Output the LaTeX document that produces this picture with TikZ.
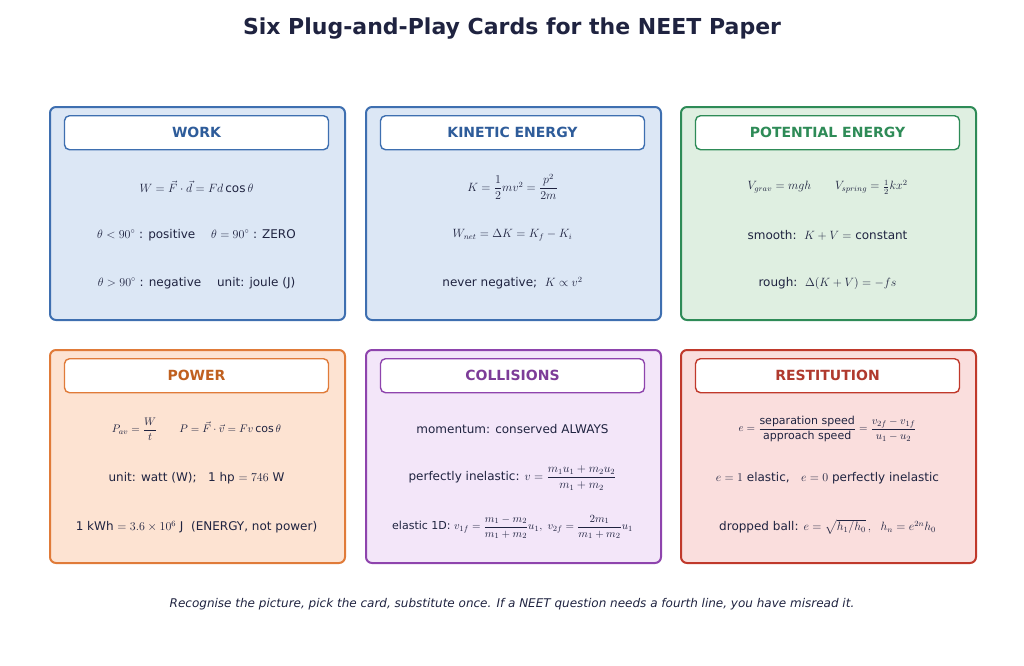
\documentclass[tikz,border=0pt]{standalone}
\usepackage{fontspec}
\setmainfont{DejaVu Sans}
\usepackage{amsmath}
\definecolor{ink}{HTML}{1F2340}
\definecolor{bB}{HTML}{3E6FB0}\definecolor{bF}{HTML}{DCE7F5}\definecolor{bT}{HTML}{2E5C9A}
\definecolor{gB}{HTML}{2E8B57}\definecolor{gF}{HTML}{DFEFE1}\definecolor{gT}{HTML}{2E8B57}
\definecolor{oB}{HTML}{E07B39}\definecolor{oF}{HTML}{FDE3D2}\definecolor{oT}{HTML}{C0601F}
\definecolor{pB}{HTML}{8E44AD}\definecolor{pF}{HTML}{F3E6F9}\definecolor{pT}{HTML}{7D3C98}
\definecolor{rB}{HTML}{C0392B}\definecolor{rF}{HTML}{FADEDD}\definecolor{rT}{HTML}{B03A2E}
\begin{document}
\begin{tikzpicture}[x=1pt,y=-1pt,
  card/.style={draw=#1,line width=2pt,rounded corners=6pt,minimum width=295pt,minimum height=213pt,anchor=north west,inner sep=0pt},
  head/.style={draw=#1,line width=1.4pt,fill=white,rounded corners=5pt,minimum width=264pt,minimum height=34pt,anchor=north,font=\bfseries\fontsize{14}{16}\selectfont},
  line/.style={text=ink,font=\fontsize{12}{14}\selectfont},
  small/.style={text=ink,font=\fontsize{11}{13}\selectfont}]
\useasboundingbox (0,0) rectangle (1024,665);
\node[text=ink,font=\bfseries\fontsize{22}{26}\selectfont] (title) at (512,29) {Six Plug-and-Play Cards for the NEET Paper};
\node[card=bB,fill=bF] (c1) at (49,106) {};
\node[card=bB,fill=bF] (c2) at (365,106) {};
\node[card=gB,fill=gF] (c3) at (680,106) {};
\node[card=oB,fill=oF] (c4) at (49,349) {};
\node[card=pB,fill=pF] (c5) at (365,349) {};
\node[card=rB,fill=rF] (c6) at (680,349) {};
\node[head=bB,text=bT] (h1) at (196.5,115) {WORK};
\node[head=bB,text=bT] (h2) at (512.5,115) {KINETIC ENERGY};
\node[head=gB,text=gT] (h3) at (827.5,115) {POTENTIAL ENERGY};
\node[head=oB,text=oT] (h4) at (196.5,358) {POWER};
\node[head=pB,text=pT] (h5) at (512.5,358) {COLLISIONS};
\node[head=rB,text=rT] (h6) at (827.5,358) {RESTITUTION};
\node[line] (a1) at (196.5,187) {$W=\vec F\cdot\vec d=Fd\cos\theta$};
\node[line] (a2) at (196.5,235) {$\theta<90^\circ$ : positive \quad $\theta=90^\circ$ : ZERO};
\node[line] (a3) at (196.5,283) {$\theta>90^\circ$ : negative \quad unit: joule (J)};
\node[line] (b1) at (512.5,187) {$K=\dfrac12 mv^2=\dfrac{p^2}{2m}$};
\node[line] (b2) at (512.5,235) {$W_{net}=\Delta K=K_f-K_i$};
\node[line] (b3) at (512.5,283) {never negative;\ \ $K\propto v^2$};
\node[line] (d1) at (827.5,187) {$V_{grav}=mgh$\qquad $V_{spring}=\tfrac12kx^2$};
\node[line] (d2) at (827.5,235) {smooth:\ \ $K+V=$\ constant};
\node[line] (d3) at (827.5,283) {rough:\ \ $\Delta(K+V)=-fs$};
\node[small] (e1) at (196.5,429) {$P_{av}=\dfrac{W}{t}$\qquad $P=\vec F\cdot\vec v=Fv\cos\theta$};
\node[line] (e2) at (196.5,478) {unit: watt (W);\ \ \ 1 hp\ $=746$ W};
\node[line] (e3) at (196.5,527) {1 kWh\ $=3.6\times10^6$ J\ \ (ENERGY, not power)};
\node[line] (f1) at (512.5,429) {momentum: conserved ALWAYS};
\node[line] (f2) at (512.5,478) {perfectly inelastic: $v=\dfrac{m_1u_1+m_2u_2}{m_1+m_2}$};
\node[small] (f3) at (512.5,527) {elastic 1D: $v_{1f}=\dfrac{m_1-m_2}{m_1+m_2}u_1,\ v_{2f}=\dfrac{2m_1}{m_1+m_2}u_1$};
\node[small] (g1) at (827.5,429) {$e=\dfrac{\text{separation speed}}{\text{approach speed}}=\dfrac{v_{2f}-v_{1f}}{u_1-u_2}$};
\node[line] (g2) at (827.5,478) {$e=1$ elastic,\ \ \ $e=0$ perfectly inelastic};
\node[line] (g3) at (827.5,527) {dropped ball: $e=\sqrt{h_1/h_0}\,,\ \ h_n=e^{2n}h_0$};
\node[text=ink,font=\itshape\fontsize{12}{14}\selectfont] (cap) at (512,604) {Recognise the picture, pick the card, substitute once. If a NEET question needs a fourth line, you have misread it.};
\end{tikzpicture}
\end{document}
